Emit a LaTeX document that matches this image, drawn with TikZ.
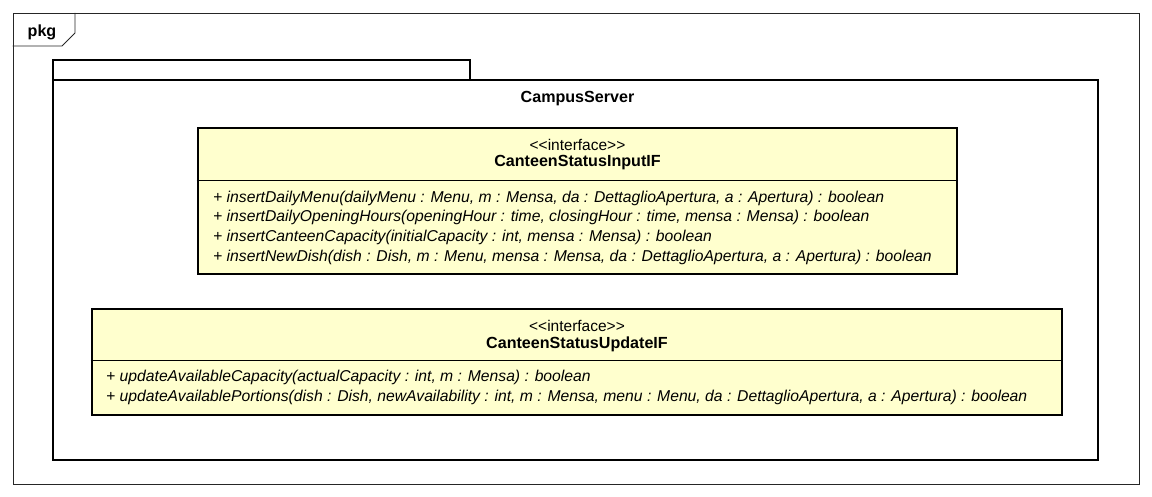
\documentclass[tikz,border=0pt]{standalone}
\usepackage{fontspec}
\setmainfont{Liberation Sans}
\usetikzlibrary{positioning}
\definecolor{classfill}{RGB}{255,255,206}

\begin{document}
\begin{tikzpicture}[x=1pt, y=-1pt,
	every node/.style={inner sep=0pt, font=\fontsize{15.5}{18}\selectfont},
	classbox/.style={draw=black, fill=classfill, line width=2.6pt},
	pkgbox/.style={draw=black, line width=2.6pt},
	title/.style={font=\fontsize{16.1}{18}\selectfont\bfseries},
	method/.style={anchor=west, font=\fontsize{15.7}{18}\selectfont\itshape}]
	\useasboundingbox (0,0) rectangle (1152,497);
	% outer frame
	\node[draw=black!85, line width=0.8pt, minimum width=1126pt, minimum height=471pt] (frame) at (576,248.5) {};
	\node[anchor=west, title] (pkglabel) at (27.5,32) {pkg};
	\draw[black!85, line width=0.8pt] (frame.north west |- 0,46) -- (62,46) -- (75,33) -- (75,13);
	% package
	\node[pkgbox, minimum width=417pt, minimum height=20pt] (pkgtab) at (261.5,70) {};
	\node[pkgbox, minimum width=1045pt, minimum height=380pt] (campus) at (575.5,270) {};
	\node[title] (campusname) at (577.5,99) {CampusServer};
	% CanteenStatusInputIF
	\node[classbox, minimum width=759pt, minimum height=146pt] (inputif) at (577.5,201) {};
	\node (inputster) at (577.5,145) {<{}<interface>{}>};
	\node[title] (inputname) at (577.5,163) {CanteenStatusInputIF};
	\coordinate (sepa) at (0,180);
	\draw[line width=0.8pt] (inputif.west |- sepa) -- (inputif.east |- sepa);
	\node[method] (ma) at (213,198) {+ insertDailyMenu(dailyMenu : Menu, m : Mensa, da : DettaglioApertura, a : Apertura) : boolean};
	\node[method] (mb) at (213,217.5) {+ insertDailyOpeningHours(openingHour : time, closingHour : time, mensa : Mensa) : boolean};
	\node[method] (mc) at (213,237) {+ insertCanteenCapacity(initialCapacity : int, mensa : Mensa) : boolean};
	\node[method] (md) at (213,257) {+ insertNewDish(dish : Dish, m : Menu, mensa : Mensa, da : DettaglioApertura, a : Apertura) : boolean};
	% CanteenStatusUpdateIF
	\node[classbox, minimum width=970pt, minimum height=106pt] (updateif) at (577,362) {};
	\node (updatester) at (577,326) {<{}<interface>{}>};
	\node[title] (updatename) at (577,344) {CanteenStatusUpdateIF};
	\coordinate (sepb) at (0,360);
	\draw[line width=0.8pt] (updateif.west |- sepb) -- (updateif.east |- sepb);
	\node[method] (me) at (106,377) {+ updateAvailableCapacity(actualCapacity : int, m : Mensa) : boolean};
	\node[method] (mf) at (106,397) {+ updateAvailablePortions(dish : Dish, newAvailability : int, m : Mensa, menu : Menu, da : DettaglioApertura, a : Apertura) : boolean};
\end{tikzpicture}
\end{document}
